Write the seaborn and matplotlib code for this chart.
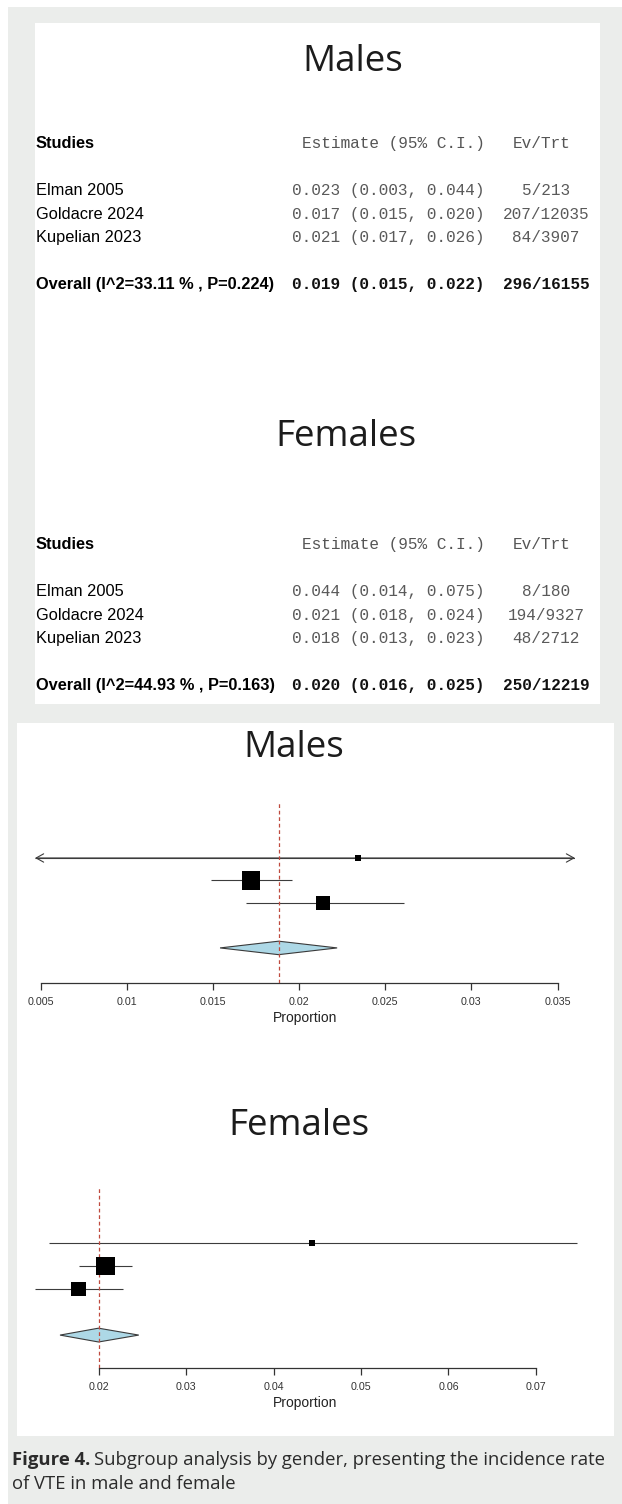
import matplotlib
matplotlib.use("Agg")
import matplotlib.pyplot as plt
from matplotlib.patches import Rectangle, Polygon
import numpy as np
import pandas as pd
import seaborn as sns

# ---- data -------------------------------------------------------------
studies = ["Elman 2005", "Goldacre 2024", "Kupelian 2023"]

male_est = [0.0234, 0.0172, 0.0214]
male_lo = [0.0030, 0.0149, 0.0169]
male_hi = [0.0440, 0.0196, 0.0261]
male_events = [5, 207, 84]
male_total = [213, 12035, 3907]
male_weight = [2.5, 60.0, 37.5]
male_overall = [0.0188, 0.0154, 0.0222]
male_i2 = 33.11
male_p = 0.224

female_est = [0.0444, 0.0208, 0.0177]
female_lo = [0.0143, 0.0178, 0.0127]
female_hi = [0.0747, 0.0238, 0.0228]
female_events = [8, 194, 48]
female_total = [180, 9327, 2712]
female_weight = [2.0, 58.0, 40.0]
female_overall = [0.0200, 0.0156, 0.0246]
female_i2 = 44.93
female_p = 0.163

male_ticks = [0.005, 0.01, 0.015, 0.02, 0.025, 0.03, 0.035]
female_ticks = [0.02, 0.03, 0.04, 0.05, 0.06, 0.07]

# ---- figure set-up ----------------------------------------------------
sns.set_theme(style="white")
plt.rcParams["font.family"] = ["Liberation Sans", "DejaVu Sans"]

W, H, DPI = 622, 1504, 100
fig = plt.figure(figsize=(W / DPI, H / DPI), dpi=DPI, facecolor="white")

BG = "#ebedeb"
TITLE_FONT = ["Open Sans", "DejaVu Sans"]
MONO_FONT = ["Liberation Mono", "DejaVu Sans Mono"]


def fx(x):
    return x / W


def fy(y):
    return 1 - y / H


def panel(x0, y0, x1, y1, color, z):
    fig.patches.append(Rectangle((fx(x0), fy(y1)), (x1 - x0) / W, (y1 - y0) / H,
                                 transform=fig.transFigure, facecolor=color,
                                 edgecolor="none", zorder=z))


panel(8, 7, W, H, BG, -3)
panel(35, 23, 600, 704, "white", -2)
panel(17, 723, 614, 1436, "white", -2)


# ---- summary tables ---------------------------------------------------
def draw_table(title, title_cx, title_base, head_base, est, lo, hi, ev, tot, ov, i2, p):
    fig.text(fx(title_cx), fy(title_base), title, family=TITLE_FONT, fontsize=26.5,
             ha="center", va="baseline", color="#1c1c1c")
    fs = 11.8
    ms = 11.6
    fig.text(fx(36), fy(head_base), "Studies", fontsize=fs, fontweight="bold",
             ha="left", va="baseline", color="black")
    fig.text(fx(485), fy(head_base), "Estimate (95% C.I.)", family=MONO_FONT,
             fontsize=ms, ha="right", va="baseline", color="#555555")
    fig.text(fx(542), fy(head_base), "Ev/Trt", family=MONO_FONT, fontsize=ms,
             ha="center", va="baseline", color="#555555")
    step = 23.6
    for i, name in enumerate(studies):
        yb = head_base + 47 + i * step
        fig.text(fx(36), fy(yb), name, fontsize=fs, ha="left", va="baseline", color="black")
        fig.text(fx(485), fy(yb), f"{est[i]:.3f} ({lo[i]:.3f}, {hi[i]:.3f})",
                 family=MONO_FONT, fontsize=ms, ha="right", va="baseline", color="#5a5a5a")
        fig.text(fx(546), fy(yb), f"{ev[i]}/{tot[i]}", family=MONO_FONT, fontsize=ms,
                 ha="center", va="baseline", color="#5a5a5a")
    yb = head_base + 47 + 4 * step
    fig.text(fx(36), fy(yb), f"Overall (I^2={i2:.2f} % , P={p:.3f})", fontsize=fs,
             fontweight="bold", ha="left", va="baseline", color="black")
    fig.text(fx(485), fy(yb), f"{ov[0]:.3f} ({ov[1]:.3f}, {ov[2]:.3f})", family=MONO_FONT,
             fontsize=ms, fontweight="bold", ha="right", va="baseline", color="#111111")
    fig.text(fx(546), fy(yb), f"{sum(ev)}/{sum(tot)}", family=MONO_FONT, fontsize=ms,
             fontweight="bold", ha="center", va="baseline", color="#111111")


draw_table("Males", 353, 71, 148, male_est, male_lo, male_hi, male_events, male_total,
           male_overall, male_i2, male_p)
draw_table("Females", 346, 446, 549, female_est, female_lo, female_hi, female_events,
           female_total, female_overall, female_i2, female_p)


# ---- forest plots -----------------------------------------------------
def draw_forest(box, xlim, ylim, ticks, est, lo, hi, weight, ov, title, title_cx, title_base):
    x0, y0, x1, y1 = box
    ax = fig.add_axes([fx(x0), fy(y1), (x1 - x0) / W, (y1 - y0) / H])
    ax.patch.set_visible(False)
    rows = np.arange(len(studies), 0, -1)
    df = pd.DataFrame({"study": studies, "est": est, "lo": lo, "hi": hi,
                       "weight": weight, "row": rows})

    # box side grows linearly with study weight
    w = df["weight"].to_numpy()
    side_px = 12.5 * (0.5 + (w - w.min()) / (w.max() - w.min()))
    areas = (side_px * 72 / DPI) ** 2

    for _, r in df.iterrows():
        clo = max(r["lo"], xlim[0])
        chi = min(r["hi"], xlim[1])
        ax.hlines(r["row"], clo, chi, color="#3c3c3c", lw=0.8, zorder=2)
        for clipped, edge in ((r["lo"] < xlim[0], xlim[0]), (r["hi"] > xlim[1], xlim[1])):
            if clipped:
                ax.annotate("", xy=(edge, r["row"]), xytext=(r["est"], r["row"]),
                            arrowprops=dict(arrowstyle="->,head_length=0.45,head_width=0.25",
                                            color="#3c3c3c", lw=0.8, shrinkA=0, shrinkB=0),
                            annotation_clip=False, zorder=2)

    h = 0.3
    diamond = Polygon([(ov[1], -1), (ov[0], -1 + h), (ov[2], -1), (ov[0], -1 - h)],
                      closed=True, facecolor="#add8e6", edgecolor="#3a3a3a", lw=0.8, zorder=3)
    ax.add_patch(diamond)
    ax.axvline(ov[0], color="#bf4a3e", lw=0.9, ls=(0, (3, 2.2)), zorder=3.5)

    sns.scatterplot(data=df, x="est", y="row", marker="s", s=areas, color="black",
                    linewidth=0, legend=False, ax=ax, zorder=4)

    ax.set_xlim(xlim)
    ax.set_ylim(ylim)
    ax.set_yticks([])
    ax.set_ylabel("")
    for s in ("left", "top", "right"):
        ax.spines[s].set_visible(False)
    ax.spines["bottom"].set_bounds(ticks[0], ticks[-1])
    ax.spines["bottom"].set_color("#333333")
    ax.spines["bottom"].set_linewidth(0.9)
    ax.set_xticks(ticks)
    ax.set_xticklabels([f"{t:g}" for t in ticks])
    ax.tick_params(axis="x", bottom=True, direction="out", length=5, width=0.9,
                   color="#333333", labelsize=7.7, labelcolor="#333333", pad=5)
    ax.set_xlabel("Proportion", fontsize=10, labelpad=3, color="#222222")

    fig.text(fx(title_cx), fy(title_base), title, family=TITLE_FONT, fontsize=26.5,
             ha="center", va="baseline", color="#1c1c1c")
    return ax


draw_forest((35, 802, 575, 983), (0.004652, 0.036016), (-2.56, 5.49), male_ticks,
            male_est, male_lo, male_hi, male_weight, male_overall, "Males", 294, 757)
draw_forest((30, 1188, 580, 1368), (0.01217, 0.07503), (-2.43, 5.39), female_ticks,
            female_est, female_lo, female_hi, female_weight, female_overall, "Females", 299, 1135)

# ---- caption ----------------------------------------------------------
cap_fs = 13.3
lead = fig.text(fx(12), fy(1465), "Figure 4.", family=TITLE_FONT, fontsize=cap_fs,
                fontweight="bold", ha="left", va="baseline", color="#2b2b2b")
fig.canvas.draw()
bb = lead.get_window_extent()
fig.text((bb.x1 + 4) / W, fy(1465), "Subgroup analysis by gender, presenting the incidence rate",
         family=TITLE_FONT, fontsize=cap_fs, ha="left", va="baseline", color="#2b2b2b")
fig.text(fx(12), fy(1489), "of VTE in male and female", family=TITLE_FONT, fontsize=cap_fs,
         ha="left", va="baseline", color="#2b2b2b")

fig.savefig("out.png", dpi=DPI, facecolor="white")
